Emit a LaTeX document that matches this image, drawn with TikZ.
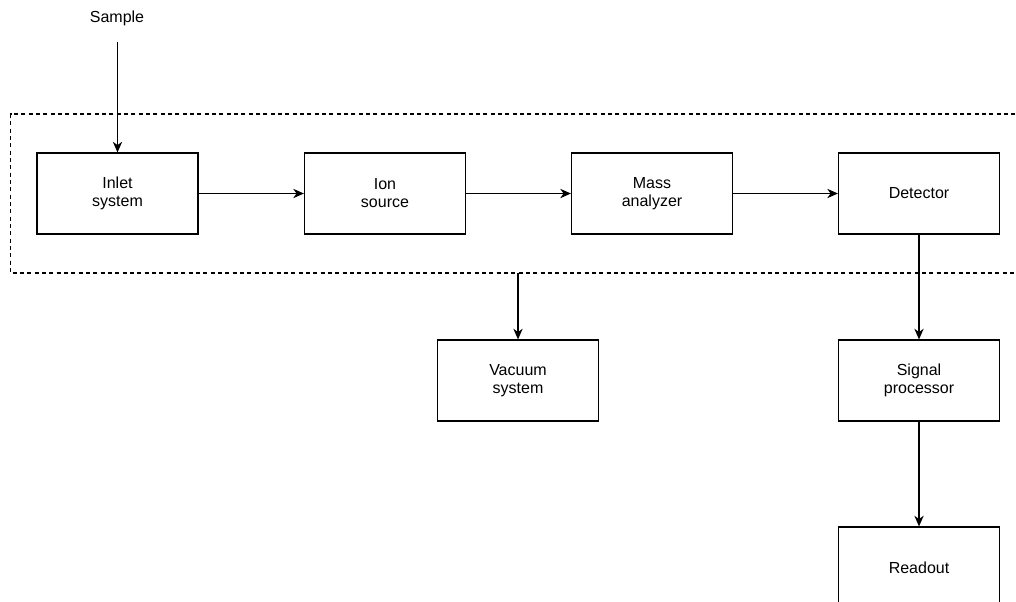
\documentclass[tikz,border=0pt]{standalone}
\usepackage{fontspec}
\setmainfont{Liberation Sans}
\usetikzlibrary{arrows.meta}
\begin{document}
\begin{tikzpicture}[x=0.75pt,y=-0.75pt,
  block/.style={draw, line width=0.9pt, minimum width=120.75pt, minimum height=60.75pt,
    inner sep=0pt, align=center, font=\fontsize{12}{13.5}\selectfont},
  flow/.style={draw, line width=0.9pt, -{Stealth[length=8pt,width=7pt,inset=2.5pt]}},
  groupbox/.style={draw, line width=0.8pt, dash pattern=on 3pt off 2.5pt}]
  \useasboundingbox (0,0) rectangle (1016,601);
  \clip (0,0) rectangle (1016,601);
  \fill[white] (0,0) rectangle (1016,601);

  % dashed enclosure around the main instrument chain
  \draw[groupbox] (1030,114) -- (10.5,114) -- (10.5,273) -- (1030,273);

  % main chain
  \node[block] (inlet) at (117.5,193.5) {Inlet\\system};
  \node[block] (ion)   at (385,193.5)   {Ion\\source};
  \node[block] (mass)  at (652,193.5)   {Mass\\analyzer};
  \node[block] (det)   at (919,193.5)   {Detector};

  % auxiliary units
  \node[block] (vac)   at (518,380.5)   {Vacuum\\system};
  \node[block] (sig)   at (919,380.5)   {Signal\\processor};
  \node[block] (read)  at (919,567.5)   {Readout};

  % input label
  \node[font=\fontsize{12}{13.5}\selectfont] (sample) at (117,18) {Sample};
  \coordinate (sampleend) at (117.5,42);
  \coordinate (vacstart) at (518,273);

  \draw[flow] (sampleend) -- (inlet.north);
  \draw[flow] (inlet) -- (ion);
  \draw[flow] (ion) -- (mass);
  \draw[flow] (mass) -- (det);
  \draw[flow] (vacstart) -- (vac.north);
  \draw[flow] (det) -- (sig);
  \draw[flow] (sig) -- (read);
\end{tikzpicture}
\end{document}
